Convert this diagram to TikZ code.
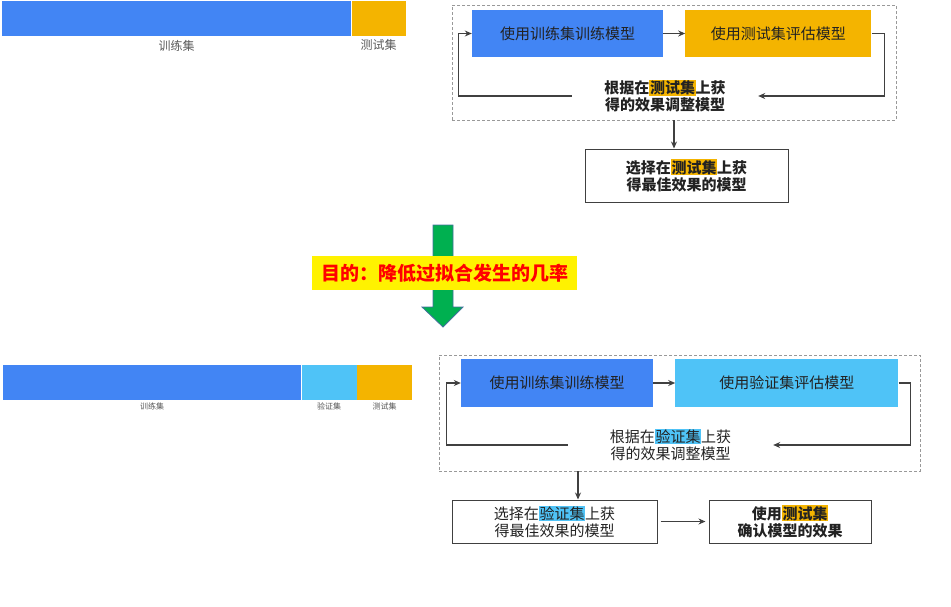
\documentclass[tikz,border=0pt]{standalone}
\usepackage{fontspec}
\setmainfont{Noto Sans CJK SC}
\usepackage{xcolor}
\usepackage{tikz}
\usetikzlibrary{arrows, arrows.meta, positioning}
\definecolor{gblue}{HTML}{4285F4}
\definecolor{gyellow}{HTML}{F4B400}
\definecolor{lblue}{HTML}{4FC3F7}
\definecolor{linegray}{HTML}{404040}
\definecolor{textdark}{HTML}{222222}
\definecolor{greenarrow}{HTML}{00B050}
\definecolor{greenedge}{HTML}{41719C}
\newcommand{\hlset}[2]{{\setlength{\fboxsep}{0.6pt}\colorbox{#1}{#2}}}
\tikzstyle{barseg} = [rectangle, inner sep=0pt, minimum height=35pt, anchor=north west]
\tikzstyle{barlabel} = [inner sep=0pt, text=black!65, font=\fontsize{12pt}{14pt}\selectfont]
\tikzstyle{smalllabel} = [inner sep=0pt, text=black!65, font=\fontsize{8pt}{10pt}\selectfont]
\tikzstyle{stepbox} = [rectangle, minimum height=47pt, inner sep=0pt, text centered, text=textdark, font=\fontsize{15pt}{17pt}\selectfont]
\tikzstyle{loopframe} = [rectangle, draw=black!40, dash pattern=on 3pt off 2pt, line width=0.8pt]
\tikzstyle{adjtext} = [rectangle, inner sep=0pt, align=center, text=textdark, font=\fontsize{15pt}{17pt}\selectfont]
\tikzstyle{resultbox} = [rectangle, draw=linegray, line width=1pt, fill=white, inner sep=0pt, align=center, text=textdark, font=\fontsize{15pt}{17pt}\selectfont]
\tikzstyle{boldfont} = [font=\fontsize{15pt}{17pt}\selectfont\bfseries]
\tikzstyle{goalbox} = [rectangle, fill=yellow, inner sep=0pt, text=red, font=\fontsize{19pt}{21pt}\selectfont\bfseries]
\tikzstyle{arrow} = [line width=1.1pt, draw=linegray, -{Stealth[length=7pt, width=6pt]}]

\begin{document}
\begin{tikzpicture}[x=1pt, y=-1pt]
\useasboundingbox (0,0) rectangle (951,606);

% split: train / test
\node (trainbar1) [barseg, fill=gblue, minimum width=349pt] at (2,1) {};
\node (testbar1) [barseg, fill=gyellow, minimum width=54pt, right=0pt of trainbar1] {};
\node (trainlab1) [barlabel] at ([yshift=-9pt]trainbar1.south) {训练集};
\node (testlab1) [barlabel] at ([yshift=-9pt]testbar1.south) {测试集};

\node (loop1) [loopframe, minimum width=444pt, minimum height=115pt] at (674,62.5) {};
\node (train1) [stepbox, fill=gblue, minimum width=191pt] at (567.5,33.5) {使用训练集训练模型};
\node (evaltest) [stepbox, fill=gyellow, minimum width=186pt, right=22pt of train1] {使用测试集评估模型};
\node (adjtest) [adjtext, boldfont, minimum width=186pt] at (665,96) {根据在\hlset{gyellow}{测试集}上获\\得的效果调整模型};
\node (seltest) [resultbox, boldfont, minimum width=203pt, minimum height=53pt] at (686.5,175.5) {选择在\hlset{gyellow}{测试集}上获\\得最佳效果的模型};

\draw [arrow] (train1) -- (evaltest);
\draw [arrow] (evaltest.east) -- ++(13,0) |- (adjtest.east);
\draw [arrow] (adjtest.west) -- ++(-113,0) |- (train1.west);
\draw [arrow] (loop1.south) -- (loop1.south |- seltest.north);

% goal
\filldraw [fill=greenarrow, draw=greenedge, line width=0.8pt] (433,225) -- (453,225) -- (453,307) -- (463,307) -- (443,327) -- (422,307) -- (433,307) -- cycle;
\node (goal) [goalbox, minimum width=265pt, minimum height=34pt] at (444.5,273) {目的：降低过拟合发生的几率};

% split: train / validation / test
\node (trainbar2) [barseg, fill=gblue, minimum width=298pt] at (3,365) {};
\node (valbar2) [barseg, fill=lblue, minimum width=55pt, right=0pt of trainbar2] {};
\node (testbar2) [barseg, fill=gyellow, minimum width=55pt, right=0pt of valbar2] {};
\node (trainlab2) [smalllabel] at ([yshift=-6pt]trainbar2.south) {训练集};
\node (vallab2) [smalllabel] at ([yshift=-6pt]valbar2.south) {验证集};
\node (testlab2) [smalllabel] at ([yshift=-6pt]testbar2.south) {测试集};

\node (loop2) [loopframe, minimum width=481pt, minimum height=116pt] at (679.5,413) {};
\node (train2) [stepbox, fill=gblue, minimum width=192pt, minimum height=48pt] at (557,383) {使用训练集训练模型};
\node (evalval) [stepbox, fill=lblue, minimum width=223pt, minimum height=48pt, right=22pt of train2] {使用验证集评估模型};
\node (adjval) [adjtext, minimum width=205pt] at (670.5,445) {根据在\hlset{lblue}{验证集}上获\\得的效果调整模型};
\node (selval) [resultbox, minimum width=205pt, minimum height=43pt] at (554.5,521.5) {选择在\hlset{lblue}{验证集}上获\\得最佳效果的模型};
\node (confirm) [resultbox, boldfont, minimum width=162pt, minimum height=43pt, right=51pt of selval] {使用\hlset{gyellow}{测试集}\\确认模型的效果};

\draw [arrow] (train2) -- (evalval);
\draw [arrow] (evalval.east) -- ++(12,0) |- (adjval.east);
\draw [arrow] (adjval.west) -- ++(-121.5,0) |- (train2.west);
\draw [arrow] ([xshift=23.5pt]selval.north |- loop2.south) -- ([xshift=23.5pt]selval.north);
\draw [arrow, shorten <=3pt, shorten >=3pt] (selval) -- (confirm);

\end{tikzpicture}
\end{document}
